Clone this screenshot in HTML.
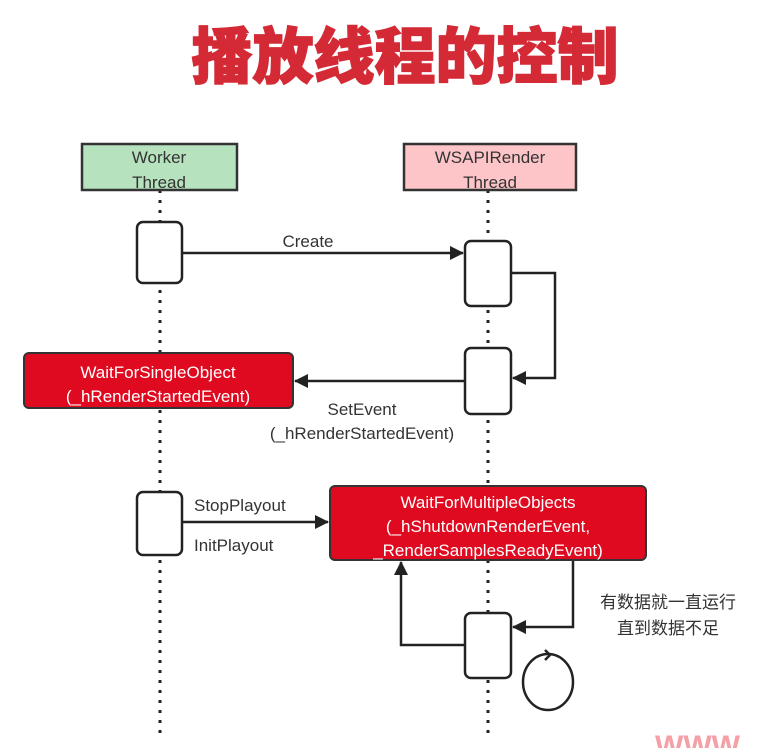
<!DOCTYPE html>
<html><head><meta charset="utf-8"><style>
body{margin:0;background:#fff;}
svg text{font-family:"Liberation Sans","Noto Sans CJK SC",sans-serif;}
</style></head><body>
<svg width="764" height="748" viewBox="0 0 764 748" xmlns="http://www.w3.org/2000/svg">
<defs>
<marker id="b" viewBox="0 0 14 14" markerWidth="14" markerHeight="14" refX="13" refY="7" orient="auto" markerUnits="userSpaceOnUse"><path d="M0,0 L14,7 L0,14 z" fill="#222"/></marker></defs>
<text x="405" y="78" text-anchor="middle" font-size="61" font-weight="900" fill="#d42a36" stroke="#d42a36" stroke-width="1.5" style="font-family:'Noto Sans CJK SC',sans-serif">播放线程的控制</text>
<g stroke="#222" stroke-width="3" stroke-dasharray="3,7" fill="none">
<line x1="160" y1="190" x2="160" y2="740"/><line x1="488" y1="190" x2="488" y2="740"/></g>
<rect x="82" y="144" width="155" height="46" fill="#b6e2bd" stroke="#333" stroke-width="2.5"/>
<rect x="404" y="144" width="172" height="46" fill="#fec5c9" stroke="#333" stroke-width="2.5"/>
<g font-size="17" fill="#333" text-anchor="middle">
<text x="159" y="163">Worker</text><text x="159" y="188">Thread</text>
<text x="490" y="163">WSAPIRender</text><text x="490" y="188">Thread</text></g>
<g fill="none" stroke="#222" stroke-width="2.5">
<line x1="182" y1="253" x2="463" y2="253" marker-end="url(#b)"/>
<polyline points="511,273 555,273 555,378 513,378" marker-end="url(#b)"/>
<line x1="465" y1="381" x2="295" y2="381" marker-end="url(#b)"/>
<line x1="182" y1="522" x2="328" y2="522" marker-end="url(#b)"/>
<polyline points="573,560 573,627 513,627" marker-end="url(#b)"/>
<polyline points="465,645 401,645 401,562" marker-end="url(#b)"/>
<ellipse cx="548" cy="682" rx="25" ry="28"/>
<polyline points="545,650 550,655 545,660"/>
</g>
<g fill="#fff" stroke="#222" stroke-width="2.5">
<rect x="137" y="222" width="45" height="61" rx="6"/>
<rect x="465" y="241" width="46" height="65" rx="6"/>
<rect x="465" y="348" width="46" height="66" rx="6"/>
<rect x="137" y="492" width="45" height="63" rx="6"/>
<rect x="465" y="613" width="46" height="65" rx="6"/>
</g>
<rect x="24" y="353" width="269" height="55" rx="5" fill="#df0a1f" stroke="#333" stroke-width="2"/>
<rect x="330" y="486" width="316" height="74" rx="5" fill="#df0a1f" stroke="#333" stroke-width="2"/>
<g font-size="17" fill="#fff" text-anchor="middle">
<text x="158" y="378">WaitForSingleObject</text><text x="158" y="402">(_hRenderStartedEvent)</text>
<text x="488" y="508">WaitForMultipleObjects</text><text x="488" y="532">(_hShutdownRenderEvent,</text><text x="488" y="556">_RenderSamplesReadyEvent)</text></g>
<g font-size="17" fill="#333">
<text x="308" y="247" text-anchor="middle">Create</text>
<text x="362" y="415" text-anchor="middle">SetEvent</text>
<text x="362" y="439" text-anchor="middle">(_hRenderStartedEvent)</text>
<text x="194" y="511">StopPlayout</text>
<text x="194" y="551">InitPlayout</text>
<text x="668" y="608" text-anchor="middle">有数据就一直运行</text>
<text x="668" y="634" text-anchor="middle">直到数据不足</text></g>
<text x="655" y="756" font-size="30" font-weight="bold" fill="#f4a0a6">WWW</text>
</svg>
</body></html>
